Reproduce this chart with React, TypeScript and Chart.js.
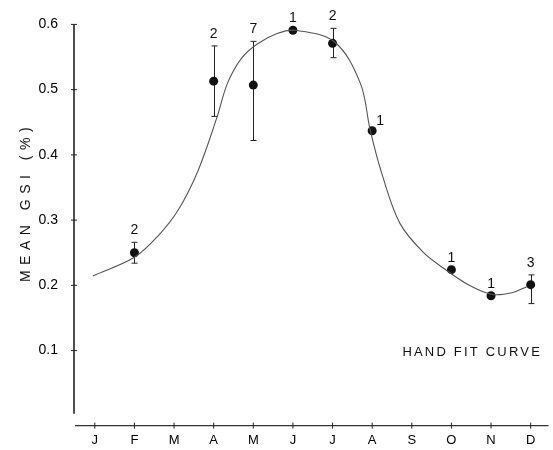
import React, { useEffect, useRef } from "react";
import { Chart, registerables } from "chart.js";

Chart.register(...registerables);

// Month axis (J..D) as positions 1..12
const monthLabels = ["J", "F", "M", "A", "M", "J", "J", "A", "S", "O", "N", "D"];
const monthTicks = [1, 2, 3, 4, 5, 6, 7, 8, 9, 10, 11, 12];
const yTickValues = [0.1, 0.2, 0.3, 0.4, 0.5, 0.6];

// Observed monthly mean GSI with error bars and sample sizes
const obsMonth = [2, 4, 5, 6, 7, 8, 10, 11, 12];
const obsMean = [0.25, 0.513, 0.507, 0.591, 0.571, 0.437, 0.224, 0.184, 0.201];
const obsLow = [0.234, 0.459, 0.422, null, 0.549, null, null, null, 0.172];
const obsHigh = [0.266, 0.567, 0.574, null, 0.594, null, null, null, 0.216];
const obsN = ["2", "2", "7", "1", "2", "1", "1", "1", "3"];

// Hand-fit curve
const curveMonth = [0.95, 2, 2.6, 3.1, 3.6, 4.08, 4.35, 4.7, 5.1, 5.6, 6.05, 7.05, 7.7, 7.95, 8.25, 8.7, 9.3, 9.83, 10.45, 11.03, 11.55, 11.9];
const curveValue = [0.2145, 0.243, 0.276, 0.315, 0.375, 0.457, 0.51, 0.548, 0.57, 0.586, 0.591, 0.573, 0.51, 0.438, 0.37, 0.295, 0.25, 0.225, 0.2, 0.186, 0.189, 0.198];

const yTitle = "MEAN GSI (%)";
const noteText = "HAND FIT CURVE";

const FONT = "'Liberation Sans', Arial, sans-serif";

const annotate = {
  id: "annotate",
  beforeDatasetsDraw(chart: any) {
    const { ctx, chartArea, scales } = chart;
    const x = scales.x;
    const y = scales.y;
    ctx.save();
    // axes
    ctx.strokeStyle = "#222";
    ctx.lineWidth = 1.6;
    ctx.beginPath();
    ctx.moveTo(chartArea.left, y.getPixelForValue(0.6));
    ctx.lineTo(chartArea.left, y.getPixelForValue(0.003));
    ctx.stroke();
    ctx.lineWidth = 1.3;
    ctx.strokeStyle = "#333";
    ctx.beginPath();
    ctx.moveTo(chartArea.left + 1, chartArea.bottom);
    ctx.lineTo(chartArea.right, chartArea.bottom);
    ctx.stroke();
    ctx.lineWidth = 1;
    ctx.strokeStyle = "#222";
    for (const t of yTickValues) {
      const py = y.getPixelForValue(t);
      ctx.beginPath();
      ctx.moveTo(chartArea.left - 3, py);
      ctx.lineTo(chartArea.left + 3, py);
      ctx.stroke();
    }
    for (const t of monthTicks) {
      const px = x.getPixelForValue(t);
      ctx.beginPath();
      ctx.moveTo(px, chartArea.bottom - 3);
      ctx.lineTo(px, chartArea.bottom + 3);
      ctx.stroke();
    }
    // error bars
    ctx.strokeStyle = "#222";
    ctx.lineWidth = 1;
    obsMonth.forEach((m, i) => {
      const lo = obsLow[i];
      const hi = obsHigh[i];
      if (lo == null || hi == null) return;
      const px = Math.round(x.getPixelForValue(m)) + 0.5;
      const pl = y.getPixelForValue(lo);
      const ph = y.getPixelForValue(hi);
      ctx.beginPath();
      ctx.moveTo(px, pl);
      ctx.lineTo(px, ph);
      ctx.moveTo(px - 3, pl);
      ctx.lineTo(px + 3, pl);
      ctx.moveTo(px - 3, ph);
      ctx.lineTo(px + 3, ph);
      ctx.stroke();
    });
    ctx.restore();
  },
  afterDatasetsDraw(chart: any) {
    const { ctx, scales } = chart;
    const x = scales.x;
    const y = scales.y;
    ctx.save();
    ctx.fillStyle = "#111";
    ctx.font = `14px ${FONT}`;
    ctx.textAlign = "center";
    ctx.textBaseline = "bottom";
    obsMonth.forEach((m, i) => {
      const px = x.getPixelForValue(m);
      const top = Math.max(obsMean[i], obsHigh[i] ?? obsMean[i]);
      const py = y.getPixelForValue(top);
      if (m === 8) {
        ctx.textAlign = "left";
        ctx.fillText(obsN[i], px + 4, py - 3);
        ctx.textAlign = "center";
      } else {
        ctx.fillText(obsN[i], px, py - 5);
      }
    });
    // y title
    ctx.font = `14px ${FONT}`;
    (ctx as any).letterSpacing = "5.5px";
    ctx.textAlign = "center";
    ctx.textBaseline = "middle";
    ctx.translate(26, 205);
    ctx.rotate(-Math.PI / 2);
    ctx.fillText(yTitle, 3, 0);
    ctx.restore();
    ctx.save();
    ctx.fillStyle = "#111";
    ctx.font = `13px ${FONT}`;
    (ctx as any).letterSpacing = "2.2px";
    ctx.textAlign = "right";
    ctx.textBaseline = "middle";
    ctx.fillText(noteText, 542, 352);
    ctx.restore();
  },
};

export default function App() {
  const ref = useRef<HTMLCanvasElement | null>(null);
  useEffect(() => {
    document.body.style.margin = "0";
    const canvas = ref.current;
    if (!canvas) return;
    const chart = new Chart(canvas, {
      type: "scatter",
      data: {
        datasets: [
          {
            data: curveMonth.map((m, i) => ({ x: m, y: curveValue[i] })),
            showLine: true,
            borderColor: "#555",
            borderWidth: 1.1,
            pointRadius: 0,
            tension: 0.35,
            fill: false,
          } as any,
          {
            data: obsMonth.map((m, i) => ({ x: m, y: obsMean[i] })),
            showLine: false,
            pointRadius: 4.5,
            pointBackgroundColor: "#111",
            pointBorderColor: "#111",
            pointBorderWidth: 0,
          },
        ],
      },
      options: {
        animation: false,
        responsive: true,
        maintainAspectRatio: false,
        layout: { padding: { top: 17, right: 0, left: 0, bottom: 0 } },
        plugins: { legend: { display: false }, tooltip: { enabled: false } },
        scales: {
          x: {
            type: "linear",
            min: 0.475,
            max: 12.45,
            border: { display: false },
            grid: { display: false, drawTicks: false, tickLength: 0 },
            afterBuildTicks: (s: any) => {
              s.ticks = monthTicks.map((v) => ({ value: v }));
            },
            afterFit: (s: any) => {
              s.height = 23;
            },
            ticks: {
              padding: 7,
              autoSkip: false,
              maxRotation: 0,
              color: "#000",
              font: { family: FONT, size: 13 },
              callback: (v: any) => monthLabels[Number(v) - 1] ?? "",
            },
          },
          y: {
            type: "linear",
            min: -0.015,
            max: 0.6,
            border: { display: false },
            grid: { display: false, drawTicks: false, tickLength: 0 },
            afterBuildTicks: (s: any) => {
              s.ticks = yTickValues.map((v) => ({ value: v }));
            },
            afterFit: (s: any) => {
              s.width = 74;
            },
            ticks: {
              padding: 16,
              color: "#000",
              font: { family: FONT, size: 14 },
              callback: (v: any) => Number(v).toFixed(1),
            },
          },
        },
      },
      plugins: [annotate],
    });
    return () => chart.destroy();
  }, []);
  return (
    <div style={{ width: 553, height: 450, position: "relative", background: "#fff" }}>
      <canvas ref={ref} />
    </div>
  );
}
